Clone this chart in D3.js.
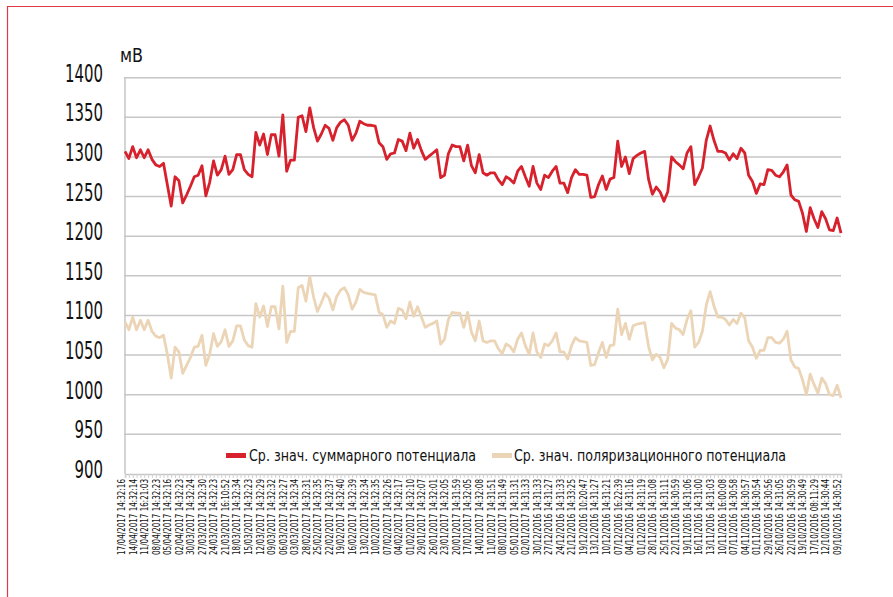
<!DOCTYPE html>
<html><head><meta charset="utf-8">
<script src="https://cdn.jsdelivr.net/npm/d3@7"></script>
<style>
html,body{margin:0;padding:0;background:#fff;}
svg{display:block;}
text{font-family:"Liberation Sans Narrow","DejaVu Sans Condensed","Roboto Condensed",sans-serif;fill:#111;}
</style></head>
<body>
<svg id="c" width="893" height="597"></svg>
<script>
const categories = ["17/04/2017 14:32:16","14/04/2017 14:32:14","11/04/2017 16:21:03","08/04/2017 14:32:23","05/04/2017 14:32:16","02/04/2017 14:32:23","30/03/2017 14:32:24","27/03/2017 14:32:30","24/03/2017 14:32:23","21/03/2017 16:10:52","18/03/2017 14:32:34","15/03/2017 14:32:23","12/03/2017 14:32:29","09/03/2017 14:32:32","06/03/2017 14:32:27","03/03/2017 14:32:34","28/02/2017 14:32:31","25/02/2017 14:32:35","22/02/2017 14:32:37","19/02/2017 14:32:40","16/02/2017 14:32:39","13/02/2017 14:32:34","10/02/2017 14:32:35","07/02/2017 14:32:26","04/02/2017 14:32:17","01/02/2017 14:32:10","29/01/2017 14:32:07","26/01/2017 14:32:01","23/01/2017 14:32:05","20/01/2017 14:31:59","17/01/2017 14:32:05","14/01/2017 14:32:08","11/01/2017 14:31:51","08/01/2017 14:31:49","05/01/2017 14:31:31","02/01/2017 14:31:33","30/12/2016 14:31:33","27/12/2016 14:31:27","24/12/2016 14:31:33","21/12/2016 14:33:25","19/12/2016 10:20:47","13/12/2016 14:31:27","10/12/2016 14:31:21","07/12/2016 16:22:39","04/12/2016 14:31:16","01/12/2016 14:31:19","28/11/2016 14:31:08","25/11/2016 14:31:11","22/11/2016 14:30:59","19/11/2016 14:31:06","16/11/2016 14:31:00","13/11/2016 14:31:03","10/11/2016 16:00:08","07/11/2016 14:30:58","04/11/2016 14:30:57","01/11/2016 14:30:54","29/10/2016 14:30:56","26/10/2016 14:31:05","22/10/2016 14:30:59","19/10/2016 14:30:49","17/10/2016 08:11:29","12/10/2016 14:30:44","09/10/2016 14:30:52"];

const summaryPotential = [1307,1298,1313,1299,1309,1299,1309,1297,1290,1288,1292,1265,1238,1275,1270,1242,1252,1263,1275,1277,
1289,1251,1268,1295,1277,1284,1301,1278,1284,1303,1303,1284,1278,1275,1331,1315,1329,1303,1328,1328,
1301,1353,1282,1296,1296,1350,1352,1332,1362,1337,1320,1329,1340,1336,1321,1337,1344,1347,1340,1321,
1330,1345,1342,1340,1340,1339,1318,1313,1297,1304,1305,1322,1320,1308,1330,1311,1322,1308,1297,1301,
1305,1309,1274,1277,1304,1315,1313,1313,1295,1315,1289,1280,1303,1280,1277,1280,1280,1271,1265,1275,
1272,1267,1282,1288,1275,1263,1288,1267,1259,1277,1274,1282,1288,1267,1267,1255,1274,1284,1278,1278,
1277,1249,1250,1265,1276,1259,1272,1274,1320,1288,1300,1279,1298,1302,1305,1307,1272,1253,1262,1256,
1244,1256,1300,1294,1290,1285,1305,1313,1265,1275,1286,1321,1339,1321,1307,1307,1305,1296,1304,1298,
1311,1305,1277,1269,1254,1266,1265,1284,1283,1277,1275,1281,1290,1252,1246,1244,1229,1206,1236,1222,
1211,1231,1222,1208,1207,1223,1204];

const polarPotential = [1092,1082,1098,1082,1094,1082,1094,1080,1074,1072,1075,1051,1021,1060,1054,1027,1037,1047,1060,1061,
1075,1037,1051,1077,1061,1067,1082,1061,1068,1087,1087,1069,1062,1060,1115,1098,1112,1086,1111,1111,
1083,1137,1066,1080,1080,1135,1138,1118,1149,1123,1105,1116,1128,1122,1107,1124,1132,1135,1126,1108,
1117,1133,1129,1128,1127,1126,1104,1101,1085,1093,1090,1109,1107,1096,1117,1099,1111,1098,1085,1088,
1090,1093,1064,1070,1095,1104,1103,1103,1085,1104,1079,1068,1093,1068,1066,1068,1068,1058,1052,1064,
1061,1054,1070,1078,1062,1051,1078,1054,1047,1064,1062,1068,1078,1054,1054,1045,1062,1072,1068,1067,
1066,1037,1038,1053,1066,1047,1062,1063,1108,1076,1090,1070,1087,1089,1090,1091,1061,1044,1051,1047,
1034,1045,1090,1084,1082,1076,1095,1106,1060,1066,1080,1113,1130,1112,1098,1098,1095,1088,1095,1090,
1103,1097,1068,1060,1046,1056,1056,1072,1072,1066,1065,1070,1080,1044,1035,1033,1019,1000,1026,1013,
1002,1021,1014,1000,999,1012,996];

const yTicks = [900,950,1000,1050,1100,1150,1200,1250,1300,1350,1400];
const seriesNames = ["Ср. знач. суммарного потенциала","Ср. знач. поляризационного потенциала"];
const seriesColors = ["#d7212c","#ecd5b6"];
const unitLabel = "мВ";

(function(){
const svg = d3.select("#c");
const pLeft = 125, pRight = 841, pTop = 77.7, pBottom = 474;

// frame
svg.append("path").attr("d", "M7.5,597 L7.5,6.5 L893,6.5").attr("fill","none").attr("stroke","#e03a44").attr("stroke-width",1.2);

const idx = d3.range(summaryPotential.length);
const x = d3.scalePoint().domain(idx).range([pLeft, pRight]);
const y = d3.scaleLinear().domain([900,1400]).range([pBottom, pTop]);

// grid
svg.append("g").selectAll("line").data(yTicks.filter(d=>d>900)).join("line")
  .attr("x1", pLeft-1).attr("x2", pRight).attr("y1", d=>y(d)).attr("y2", d=>y(d))
  .attr("stroke","#c6c6c6").attr("stroke-width",1.5);

// y axis line
svg.append("line").attr("x1",pLeft).attr("x2",pLeft).attr("y1",pTop).attr("y2",pBottom)
  .attr("stroke","#c6c6c6").attr("stroke-width",1.5);

// y labels
svg.append("g").selectAll("text").data(yTicks).join("text")
  .attr("x",103).attr("y",d=>y(d)+4)
  .attr("text-anchor","end").attr("font-size",25)
  .attr("textLength", d=>String(d).length*9.5).attr("lengthAdjust","spacingAndGlyphs")
  .text(d=>d);

svg.append("text").attr("x",120).attr("y",62).attr("font-size",20)
  .attr("textLength",23).attr("lengthAdjust","spacingAndGlyphs").text(unitLabel);

// x axis
const xAxis = d3.axisBottom(x).tickSize(4).tickFormat("");
const gx = svg.append("g").attr("transform","translate(0,"+pBottom+")").call(xAxis);
gx.select(".domain").attr("stroke","#c6c6c6").attr("stroke-width",1.5);
gx.selectAll(".tick line").attr("stroke","#d0d0d0");

svg.append("g").selectAll("text").data(categories).join("text")
  .attr("transform",(d,i)=>"translate("+x(i*3)+",479) rotate(-90)")
  .attr("text-anchor","end").attr("font-size",10)
  .attr("textLength",76).attr("lengthAdjust","spacingAndGlyphs")
  .text(d=>d);

// lines
const line = d3.line().x((d,i)=>x(i)).y(d=>y(d));
svg.append("path").datum(polarPotential).attr("d",line).attr("fill","none")
  .attr("stroke", seriesColors[1]).attr("stroke-width",2.8).attr("stroke-linejoin","round");
svg.append("path").datum(summaryPotential).attr("d",line).attr("fill","none")
  .attr("stroke", seriesColors[0]).attr("stroke-width",2.8).attr("stroke-linejoin","round");

// legend
const lg = svg.append("g");
const legendItems = [
  {name:seriesNames[0], color:seriesColors[0], sx:226, tx:249, tl:227},
  {name:seriesNames[1], color:seriesColors[1], sx:492, tx:514, tl:272}
];
legendItems.forEach(it=>{
  lg.append("rect").attr("x",it.sx).attr("y",453).attr("width",20).attr("height",5).attr("fill",it.color);
  lg.append("text").attr("x",it.tx).attr("y",461).attr("font-size",16)
    .attr("textLength",it.tl).attr("lengthAdjust","spacingAndGlyphs").text(it.name);
});
})();
</script>
</body></html>
